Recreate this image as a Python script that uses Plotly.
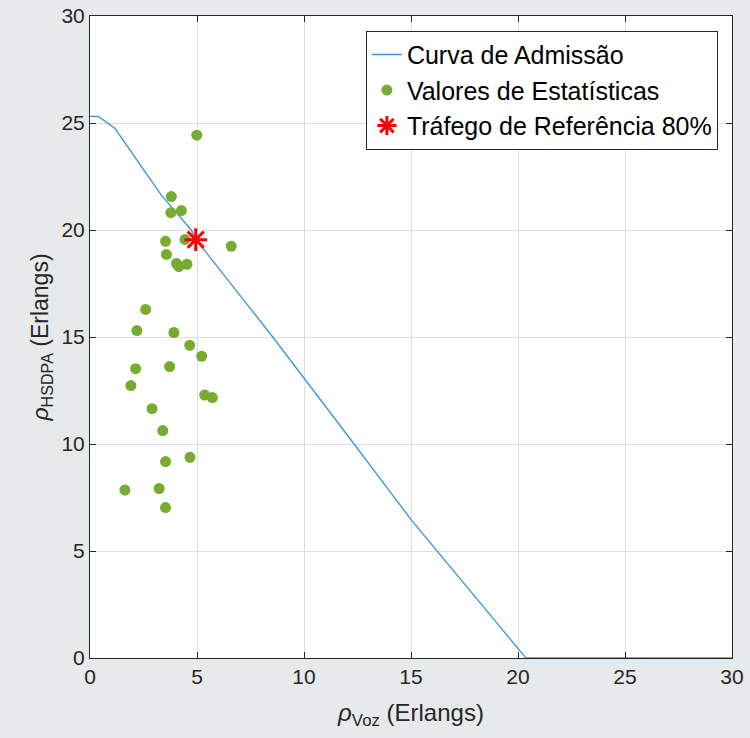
import plotly.graph_objects as go

# Admission curve
curve_x = [0.0, 0.39, 1.17, 1.95, 3.34, 4.74, 4.95, 8.54, 10.33, 12.34, 15.03, 20.37, 30.0]
curve_y = [25.31, 25.31, 24.74, 23.64, 21.62, 19.99, 19.56, 15.0, 12.66, 10.0, 6.43, 0.0, 0.0]

# Statistics values
stats_x = [4.99, 3.80, 3.78, 4.27, 3.53, 4.44, 6.60, 3.57, 4.04, 4.15, 4.53, 2.60,
           2.19, 3.92, 4.66, 5.22, 2.13, 3.72, 1.91, 5.36, 5.72, 2.90, 3.40, 4.67,
           3.53, 1.63, 3.23, 3.53]
stats_y = [24.43, 21.56, 20.81, 20.91, 19.47, 19.56, 19.24, 18.86, 18.44, 18.29, 18.40, 16.29,
           15.30, 15.21, 14.61, 14.10, 13.52, 13.62, 12.73, 12.29, 12.17, 11.65, 10.63, 9.38,
           9.18, 7.85, 7.92, 7.03]

# Reference traffic 80%
ref_x = [4.94]
ref_y = [19.55]

tick_vals = [0, 5, 10, 15, 20, 25, 30]

FONT = "Liberation Sans, Arial, Helvetica, sans-serif"
AX = "#262626"
BG = "#e7eaeb"

fig = go.Figure()
fig.add_trace(go.Scatter(x=curve_x, y=curve_y, mode="lines", name="Curva de Admissão",
                         line=dict(color="#3a94d8", width=1.3)))
fig.add_trace(go.Scatter(x=stats_x, y=stats_y, mode="markers", name="Valores de Estatísticas",
                         marker=dict(color="#77AC30", size=11, line=dict(width=0))))
fig.add_trace(go.Scatter(x=ref_x, y=ref_y, mode="markers", name="Tráfego de Referência 80%",
                         marker=dict(symbol="asterisk-open", color="#ff0000", size=19,
                                     line=dict(color="#ff0000", width=3))))

axis_common = dict(
    range=[0, 30], tickvals=tick_vals, ticktext=[str(v) for v in tick_vals],
    showgrid=True, gridcolor="#dedede", gridwidth=1,
    showline=True, linecolor=AX, linewidth=1, mirror="ticks",
    ticks="inside", ticklen=6, tickcolor=AX, zeroline=False,
    tickfont=dict(family=FONT, size=21, color=AX), automargin=False,
)

fig.update_xaxes(**axis_common,
                 title=dict(text="<i>ρ</i><sub>Voz</sub> (Erlangs)",
                            font=dict(family=FONT, size=24, color=AX), standoff=16))
fig.update_yaxes(**axis_common,
                 title=dict(text="<i>ρ</i><sub>HSDPA</sub> (Erlangs)",
                            font=dict(family=FONT, size=23, color=AX), standoff=6))

fig.update_layout(
    width=750, height=738,
    margin=dict(l=90, r=18, t=16, b=80),
    paper_bgcolor=BG, plot_bgcolor="#ffffff",
    showlegend=True,
    legend=dict(x=0.978, y=0.977, xanchor="right", yanchor="top",
                bgcolor="#ffffff", bordercolor=AX, borderwidth=1,
                font=dict(family=FONT, size=25, color="#000000"),
                itemwidth=30, tracegroupgap=0),
)

fig.write_html(
    "out.html",
    config={"displayModeBar": False},
    post_script=("document.body.style.margin='0';"
                 "document.body.style.background='" + BG + "';"),
)
